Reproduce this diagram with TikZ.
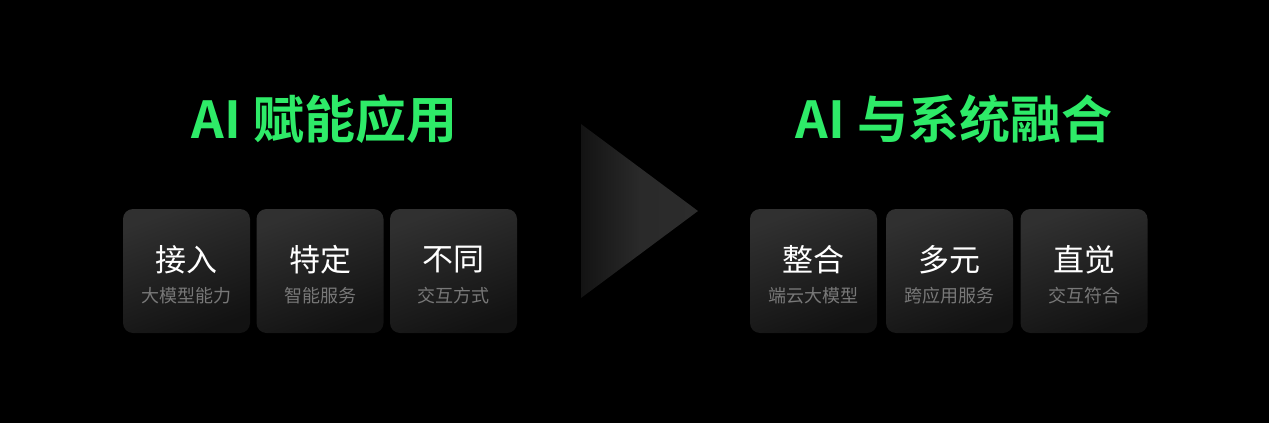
\documentclass[tikz,border=0pt]{standalone}
\usepackage{fontspec}
\setmainfont{Noto Sans CJK SC}
\newfontfamily\cjkfont{Noto Sans CJK SC}
\newfontfamily\cjkbold{Noto Sans CJK SC Bold}
\usetikzlibrary{calc}
\definecolor{titlegreen}{RGB}{46,235,104}
\definecolor{cardtop}{RGB}{48,48,48}
\definecolor{cardbot}{RGB}{18,18,18}
\definecolor{subgray}{RGB}{120,120,120}
\definecolor{tridark}{RGB}{19,19,19}
\definecolor{trilight}{RGB}{44,44,44}
\tikzset{
  card/.style={rounded corners=10pt, minimum width=127pt, minimum height=124pt,
    inner sep=0pt, top color=cardtop, bottom color=cardbot, shading angle=20},
  maintext/.style={inner sep=0pt, text=white, font=\cjkfont\fontsize{31}{31}\selectfont},
  subtext/.style={inner sep=0pt, text=subgray, font=\cjkfont\fontsize{18}{18}\selectfont},
  titletext/.style={inner sep=0pt, text=titlegreen, font=\cjkbold\fontsize{51}{51}\selectfont}
}
\begin{document}
\begin{tikzpicture}[x=1pt,y=-1pt]
\fill[black] (0,0) rectangle (1269,423);
\useasboundingbox (0,0) rectangle (1269,423);
% titles
\node[titletext] (t1) at (324.5,119) {AI 赋能应用};
\node[titletext] (t2) at (954,119) {AI 与系统融合};
% arrow triangle
\coordinate (ta) at (581,124);
\coordinate (tb) at (698,211);
\coordinate (tc) at (581,298);
\shade[left color=tridark, right color=trilight, middle color=trilight!95!black] (ta) -- (tb) -- (tc) -- cycle;
% left cards
\node[card] (l1) at (186.5,271) {};
\node[card] (l2) at (320,271) {};
\node[card] (l3) at (453.5,271) {};
% right cards
\node[card] (r1) at (813.5,271) {};
\node[card] (r2) at (949.5,271) {};
\node[card] (r3) at (1084,271) {};
% texts
\foreach \n/\m/\s in {l1/接入/大模型能力, l2/特定/智能服务, l3/不同/交互方式, r1/整合/端云大模型, r2/多元/跨应用服务, r3/直觉/交互符合}{
  \node[maintext] (\n m) at ($(\n.center)+(0,-11)$) {\m};
  \node[subtext] (\n s) at ($(\n.center)+(0,25)$) {\s};
}
\end{tikzpicture}
\end{document}
